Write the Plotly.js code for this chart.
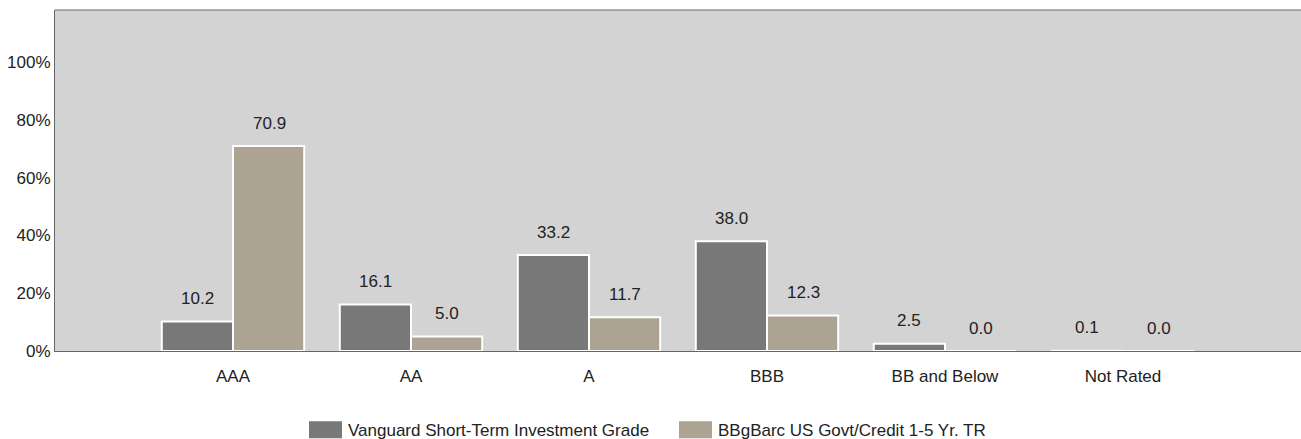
<!DOCTYPE html>
<html><head><meta charset="utf-8">
<script src="https://cdn.plot.ly/plotly-3.0.1.min.js"></script>
<style>html,body{margin:0;padding:0;background:#fff;}</style>
</head><body>
<div id="chart" style="width:1301px;height:439px;"></div>
<script>
const categories = ["AAA", "AA", "A", "BBB", "BB and Below", "Not Rated"];
const fundName = "Vanguard Short-Term Investment Grade";
const benchName = "BBgBarc US Govt/Credit 1-5 Yr. TR";
const fundValues = [10.2, 16.1, 33.2, 38.0, 2.5, 0.1];
const benchValues = [70.9, 5.0, 11.7, 12.3, 0.0, 0.0];
const yTicks = [0, 20, 40, 60, 80, 100];

const traces = [
  {type: "bar", name: fundName, x: categories, y: fundValues,
   marker: {color: "#787878", line: {color: "#ffffff", width: 2}}, hoverinfo: "none"},
  {type: "bar", name: benchName, x: categories, y: benchValues,
   marker: {color: "#ada392", line: {color: "#ffffff", width: 2}}, hoverinfo: "none"}
];

const annotations = [];
categories.forEach((c, i) => {
  annotations.push({x: c, y: fundValues[i], text: fundValues[i].toFixed(1), xref: "x", yref: "y",
    showarrow: false, xshift: -36, yshift: 23, font: {size: 17, color: "#222"}});
  annotations.push({x: c, y: benchValues[i], text: benchValues[i].toFixed(1), xref: "x", yref: "y",
    showarrow: false, xshift: 36, yshift: 23, font: {size: 17, color: "#222"}});
});

const layout = {
  width: 1301, height: 439,
  margin: {l: 55, r: 0, t: 10, b: 88, autoexpand: false},
  paper_bgcolor: "#ffffff", plot_bgcolor: "#d3d3d3",
  font: {family: "Liberation Sans, Arial, sans-serif", size: 16, color: "#222"},
  barmode: "group", bargap: 0.2, bargroupgap: 0,
  showlegend: true,
  legend: {orientation: "h", x: 0.5, xanchor: "center", y: -0.285, yanchor: "bottom",
    font: {size: 17, color: "#222"}, tracegroupgap: 0, entrywidth: 325, entrywidthmode: "pixels"},
  xaxis: {range: [-1, 6], showgrid: false, zeroline: false, showline: true, linecolor: "#666", linewidth: 1,
    ticks: "", ticklabelstandoff: 10, tickfont: {size: 17, color: "#222"}, fixedrange: true},
  yaxis: {range: [0, 118], tickvals: yTicks, ticktext: yTicks.map(v => v + "%"), showgrid: false, zeroline: false,
    showline: true, linecolor: "#666", linewidth: 1, ticks: "", tickfont: {size: 17, color: "#222"}, fixedrange: true},
  shapes: [{type: "line", xref: "paper", yref: "paper", x0: 0, x1: 1, y0: 1, y1: 1, line: {color: "#666", width: 1}}],
  annotations: annotations
};
Plotly.newPlot("chart", traces, layout, {displayModeBar: false, staticPlot: true}).then(gd => {
  gd.querySelectorAll(".legend .legendpoints path").forEach(p => {
    p.setAttribute("d", "M-19,-8.5h33v17h-33z");
    p.style.strokeWidth = "0";
  });
});
</script>
</body></html>
